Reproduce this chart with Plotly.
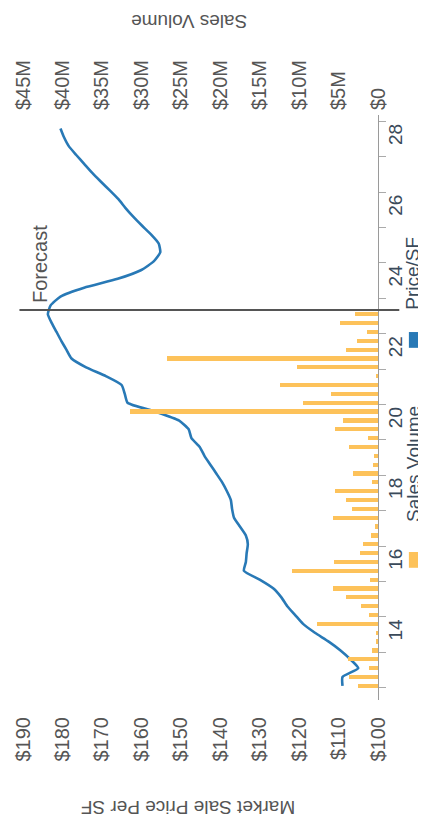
import plotly.graph_objects as go

# ---- data ----
# quarterly time positions (axis units: year-2000)
bar_t = [12.5 + 0.25 * k for k in range(43)]
sales_volume_m = [2.5, 3.7, 1.2, 3.8, 0.8, 0.3, 0.3, 7.7, 1.2, 2.1, 4.1, 5.7, 1.0, 10.9,
                  5.6, 2.3, 1.9, 0.9, 0.4, 5.7, 3.3, 4.0, 5.5, 0.8, 3.2, 0.6, 0.5, 3.7,
                  1.3, 5.5, 4.4, 31.5, 9.5, 6.0, 12.4, 0.3, 10.3, 26.8, 4.0, 2.7, 1.4,
                  4.8, 2.9]
price_t = [12.5 + 0.25 * k for k in range(64)]
price_sf = [109, 109, 105, 107, 109.5, 112.5, 116, 119, 121, 123, 124.5, 126.5, 130, 134,
            133.5, 133.3, 133, 133.5, 135, 136.5, 137, 137.3, 138.3, 139.5, 141, 142.5,
            144, 145.2, 147.3, 148, 150.5, 156.5, 163.5, 164.2, 165, 169, 174, 177.7,
            179, 180.3, 181.5, 182.7, 183.7, 183, 180.5, 174.5, 166, 160, 156.8,
            155.2, 155.6, 157.5, 159.8, 162, 164, 165.8, 168, 170.3, 172.5, 174.5, 176.5,
            178.4, 179.6, 180.5]
forecast_start = 23.12
year_ticks = [14, 16, 18, 20, 22, 24, 26, 28]
year_labels = ["14", "16", "18", "20", "22", "24", "26", "28"]
price_ticks = [100, 110, 120, 130, 140, 150, 160, 170, 180, 190]
price_labels = ["$100", "$110", "$120", "$130", "$140", "$150", "$160", "$170", "$180", "$190"]
vol_ticks = [0, 5, 10, 15, 20, 25, 30, 35, 40, 45]
vol_labels = ["$0", "$5M", "$10M", "$15M", "$20M", "$25M", "$30M", "$35M", "$40M", "$45M"]

FONT = "Liberation Sans, Arial, sans-serif"
BLUE = "#2879B6"
ORANGE = "#FDC25A"
TXT = "#555555"

fig = go.Figure()
fig.add_trace(go.Bar(x=sales_volume_m, y=bar_t, orientation="h", xaxis="x2", yaxis="y",
                     marker=dict(color=ORANGE, line=dict(width=0)), width=0.12,
                     name="Sales Volume", showlegend=False))
fig.add_trace(go.Scatter(x=price_sf, y=price_t, mode="lines", xaxis="x", yaxis="y",
                         line=dict(color=BLUE, width=2.6, shape="spline", smoothing=0.5),
                         name="Price/SF", showlegend=False))

# page body has an 8px margin, so the figure is sized/offset to compensate
fig.update_layout(
    width=418, height=811,
    margin=dict(l=15, r=48, t=107, b=119, autoexpand=False),
    paper_bgcolor="white", plot_bgcolor="white",
    font=dict(family=FONT, color=TXT),
    xaxis=dict(range=[190, 100], tickvals=price_ticks, ticktext=price_labels,
               tickangle=-90, showgrid=False, zeroline=False, showline=False,
               automargin=False,
               tickfont=dict(size=20, color=TXT), ticks="", ticklabelstandoff=12),
    xaxis2=dict(range=[45, 0], overlaying="x", side="top", tickvals=vol_ticks,
                ticktext=vol_labels, tickangle=-90, showgrid=False, zeroline=False,
                showline=False, automargin=False,
                tickfont=dict(size=20, color=TXT), ticks="",
                ticklabelstandoff=4),
    yaxis=dict(range=[12.1, 28.63], side="right", tickvals=year_ticks,
               ticktext=year_labels, tickangle=-90, showgrid=False, zeroline=False,
               showline=True, linecolor="#9a9a9a", linewidth=1, automargin=False,
               tickfont=dict(size=19, color="#3a4a5a"), ticks="outside", ticklen=0,
               minor=dict(tickmode="linear", tick0=0.45, dtick=1, ticks="outside",
                          ticklen=7, tickcolor="#aaaaaa", tickwidth=1)),
    bargap=0,
)

fig.add_shape(type="line", xref="paper", yref="y", x0=-0.01, x1=1.06,
              y0=forecast_start, y1=forecast_start,
              line=dict(color="#555555", width=2))

fig.add_annotation(text="Forecast", xref="paper", yref="y", x=0.048, y=forecast_start,
                   xanchor="center", yanchor="bottom", yshift=5, textangle=-90,
                   showarrow=False, font=dict(size=20, color="#555555", family=FONT))

fig.add_annotation(text="Sales Volume", xref="paper", yref="paper", x=0.468, y=1.161,
                   textangle=180, showarrow=False, xanchor="center", yanchor="middle",
                   borderpad=0,
                   font=dict(size=19, color=TXT, family=FONT))
fig.add_annotation(text="Market Sale Price Per SF", xref="paper", yref="paper",
                   x=0.465, y=-0.185, textangle=180, showarrow=False,
                   xanchor="center", yanchor="middle",
                   font=dict(size=19, color=TXT, family=FONT))

# legend (rotated)
fig.add_annotation(text="Price/SF", xref="paper", yref="paper", x=1.098, y=0.730,
                   textangle=-90, showarrow=False, xanchor="center", yanchor="middle",
                   borderpad=0,
                   font=dict(size=19, color="#3a4a5a", family=FONT))
fig.add_annotation(text="Sales Volume", xref="paper", yref="paper", x=1.098, y=0.403,
                   textangle=-90, showarrow=False, xanchor="center", yanchor="middle",
                   borderpad=0,
                   font=dict(size=19, color="#3a4a5a", family=FONT))
fig.add_shape(type="rect", xref="paper", yref="paper", x0=1.087, x1=1.128,
              y0=0.602, y1=0.629, fillcolor=BLUE, line=dict(width=0))
fig.add_shape(type="rect", xref="paper", yref="paper", x0=1.087, x1=1.128,
              y0=0.226, y1=0.253, fillcolor=ORANGE, line=dict(width=0))

fig.write_html("out.html")
